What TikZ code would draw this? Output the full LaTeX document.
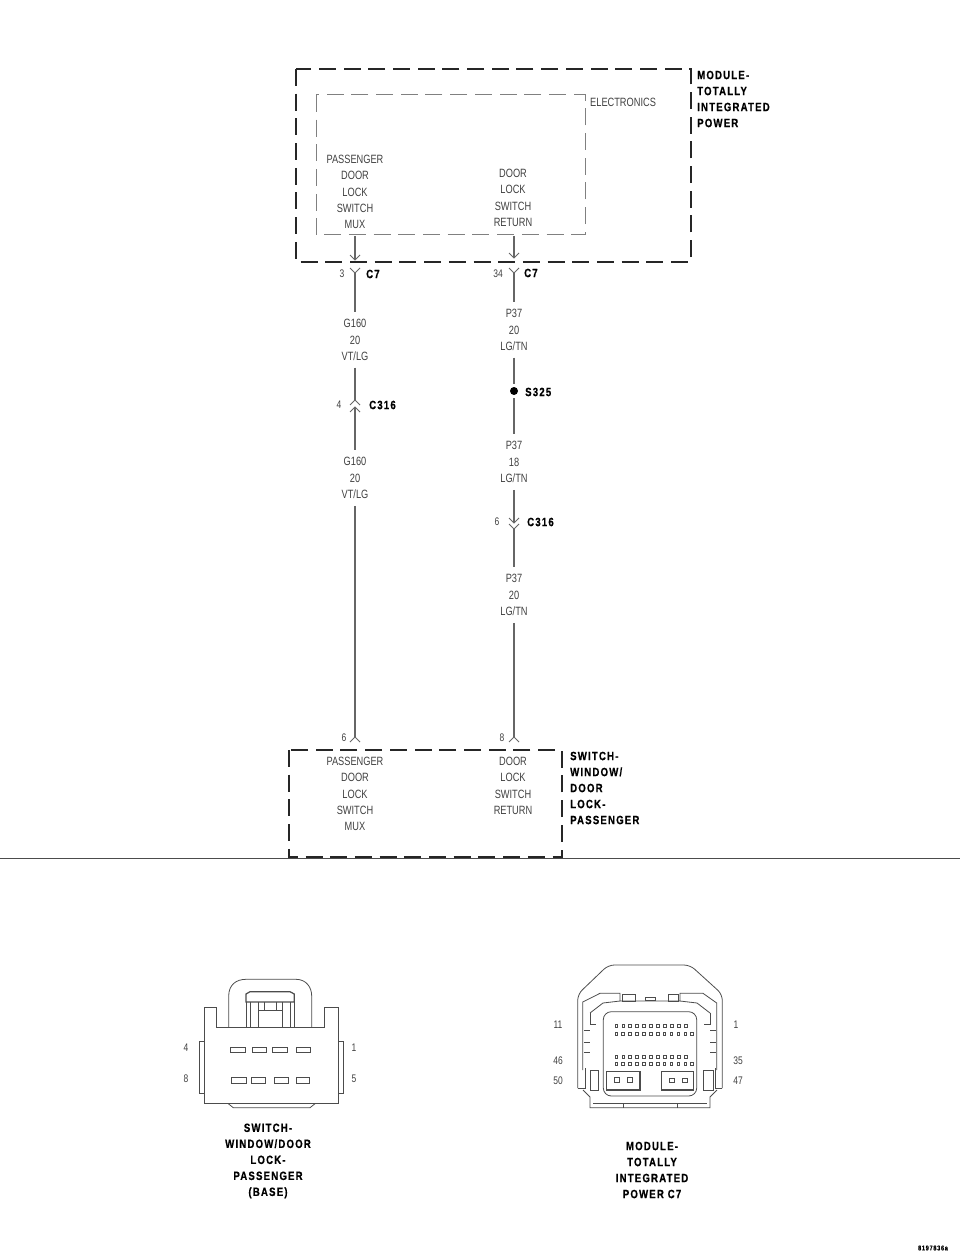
\documentclass[tikz,border=0pt]{standalone}
\usepackage{fontspec}
\setmainfont{Liberation Sans}
\newfontfamily\thinfont[FakeStretch=0.77]{Liberation Sans}
\newfontfamily\tagfont[FakeStretch=0.8,LetterSpace=10,FakeBold=0.6]{Liberation Sans Bold}
\usetikzlibrary{positioning}
\colorlet{wire edge}{black!60}
\colorlet{thin text}{black!75}
\def\chevup(#1){\draw[conn] ([shift={(-5,5)}]#1) -- (#1) -- ([shift={(5,5)}]#1);}
\def\chevdown(#1){\draw[conn] ([shift={(-5,-5)}]#1) -- (#1) -- ([shift={(5,-5)}]#1);}
\tikzset{wire/.style={draw=wire edge, line width=1.1pt},
    conn/.style={draw=wire edge, line width=0.9pt},
    modbox/.style={draw=black!85, line width=1.5pt, dash pattern=on 17pt off 7.7pt},
    subbox/.style={draw=black!50, line width=1pt, dash pattern=on 17pt off 7.7pt},
    outline/.style={draw=black!70, line width=0.8pt},
    stack/.style={font=\thinfont\fontsize{12}{16.3}\selectfont, text=thin text, align=center, inner sep=7pt},
    pin/.style={font=\thinfont\fontsize{11}{13}\selectfont, text=thin text, inner sep=0pt},
    tag/.style={font=\tagfont\fontsize{12}{16}\selectfont, align=left, anchor=west, inner sep=0pt},
    caption/.style={font=\tagfont\fontsize{12}{16}\selectfont, align=center, inner sep=0pt}}

\begin{document}
\begin{tikzpicture}[x=1pt,y=-1pt]
    \useasboundingbox (0,0) rectangle (960,1257);

    % boxes
    \draw[modbox] (296,69) rectangle (691,262);
    \draw[subbox] (316,95) rectangle (585,235);
    \draw[modbox] (289,750) rectangle (562,857);
    \draw[outline] (0,858) -- (960,858);
    \node[tag] (tipm) at (697,99) {MODULE-\\TOTALLY\\INTEGRATED\\POWER};
    \node[stack, inner sep=0pt, anchor=west] (elec) at (590,102) {ELECTRONICS};
    \node[tag] (swim) at (570,788) {SWITCH-\\WINDOW/\\DOOR\\LOCK-\\PASSENGER};

    % pin names
    \node[stack, inner sep=0pt] (muxtop) at (355,192) {PASSENGER\\DOOR\\LOCK\\SWITCH\\MUX};
    \node[stack, inner sep=0pt] (rettop) at (513,198) {DOOR\\LOCK\\SWITCH\\RETURN};
    \node[stack, inner sep=0pt] (muxbot) at (355,794) {PASSENGER\\DOOR\\LOCK\\SWITCH\\MUX};
    \node[stack, inner sep=0pt] (retbot) at (513,786) {DOOR\\LOCK\\SWITCH\\RETURN};

    % wire labels
    \node[stack] (gtop) at (355,340) {G160\\20\\VT/LG};
    \node[stack] (gbot) at (355,478) {G160\\20\\VT/LG};
    \node[stack] (pone) at (514,330) {P37\\20\\LG/TN};
    \node[stack] (ptwo) at (514,462) {P37\\18\\LG/TN};
    \node[stack] (pthree) at (514,595) {P37\\20\\LG/TN};

    % connectors on the wires
    \coordinate (muxin) at (355,236);
    \coordinate (retin) at (514,236);
    \coordinate (muxtip) at (355,260);
    \coordinate (rettip) at (514,258);
    \coordinate (muxy) at (355,273);
    \coordinate (rety) at (514,273);
    \coordinate (cleftA) at (355,400);
    \coordinate (cleftB) at (355,407);
    \coordinate (crightA) at (514,523);
    \coordinate (crightB) at (514,529);
    \coordinate (muxend) at (355,737);
    \coordinate (retend) at (514,737);
    \node[circle, fill=black, minimum size=8pt, inner sep=0pt, outer sep=3pt] (splice) at (514,391) {};

    \draw[wire] (muxin) -- (muxtip);
    \draw[wire] (retin) -- (rettip);
    \draw[wire] (muxy) -- (gtop);
    \draw[wire] (gtop) -- (cleftA);
    \draw[wire] (cleftB) -- (gbot);
    \draw[wire] (gbot) -- (muxend);
    \draw[wire] (rety) -- (pone);
    \draw[wire] (pone) -- (splice);
    \draw[wire] (splice) -- (ptwo);
    \draw[wire] (ptwo) -- (crightA);
    \draw[wire] (crightB) -- (pthree);
    \draw[wire] (pthree) -- (retend);

    \chevdown(muxtip) \chevdown(rettip)
    \chevdown(muxy) \chevdown(rety)
    \chevup(cleftA) \chevup(cleftB)
    \chevdown(crightA) \chevdown(crightB)
    \chevup(muxend) \chevup(retend)

    \node[pin] (p3) at (342,274) {3};
    \node[pin] (p34) at (498,274) {34};
    \node[pin] (p4) at (339,405) {4};
    \node[pin] (p6) at (497,522) {6};
    \node[pin] (p6b) at (344,738) {6};
    \node[pin] (p8) at (502,738) {8};
    \node[tag] (c7a) at (366,274) {C7};
    \node[tag] (c7b) at (524,273) {C7};
    \node[tag] (c316a) at (369,405) {C316};
    \node[tag] (c316b) at (527,522) {C316};
    \node[tag] (s325) at (525,392) {S325};

    % switch connector
    \draw[outline] (204.7,1007.7) -- (216.3,1007.7) -- (216.3,1027.3) -- (324,1027.3) -- (324,1007.7)
        -- (338,1007.7) -- (338,1103.7) -- (204.7,1103.7) -- cycle;
    \draw[outline] (228.3,1103.7) -- (233.3,1107.7) -- (310,1107.7) -- (315,1103.7);
    \draw[outline] (204.7,1041) -- (199.3,1041) -- (199.3,1093) -- (204.7,1093);
    \draw[outline] (338,1041) -- (343.3,1041) -- (343.3,1093) -- (338,1093);
    \draw[outline] (228.7,1027.3) -- (228.7,996) .. controls (228.7,985) and (236,979.3) .. (246,979.3)
        -- (296,979.3) .. controls (306,979.3) and (311.7,987) .. (311.7,996) -- (311.7,1027.3);
    \draw[outline, line width=1.2pt] (246,1002) -- (246,994) -- (250,991.7) -- (290,991.7) -- (294.3,994) -- (294.3,1002) -- cycle;
    \draw[outline] (246,1002) -- (246,1027.3) (250,1002) -- (250,1027.3);
    \draw[outline] (290,1002) -- (290,1027.3) (294.3,1002) -- (294.3,1027.3);
    \draw[outline] (258.3,1002) -- (258.3,1027.3) (282,1002) -- (282,1027.3);
    \draw[outline] (258.3,1010) -- (282,1010) (264,1002) -- (264,1010) (276,1002) -- (276,1010);
    \foreach \x/\w in {230/15,252.3/14.4,272/15.3,296/14}
        \draw[outline] (\x,1047) rectangle ++(\w,5.3);
    \foreach \x/\w in {231.7/14.3,251/14.7,274/14.3,296/13.3}
        \draw[outline] (\x,1077.7) rectangle ++(\w,5.6);
    \node[pin] (sw4) at (186,1048) {4};
    \node[pin] (sw8) at (186,1079) {8};
    \node[pin] (sw1) at (354,1048) {1};
    \node[pin] (sw5) at (354,1079) {5};
    \node[caption] (swcap) at (268,1161) {SWITCH-\\WINDOW/DOOR\\LOCK-\\PASSENGER\\(BASE)};

    % module connector
    \draw[outline, rounded corners=6pt] (577.7,1088) -- (577.7,994.3) -- (608.3,965) -- (690,965) -- (722.3,994.3) -- (722.3,1088);
    \draw[outline] (577.7,1088) -- (585,1088) -- (585,1068) (722.3,1088) -- (715,1088) -- (715,1068);
    \draw[outline] (582.7,1070) -- (582.7,1002) -- (600,993.3) -- (620,993.3) -- (620,1001)
        -- (680,1001) -- (680,993.3) -- (703,993.3) -- (716.7,1003) -- (716.7,1070);
    \draw[outline] (590,1013) -- (603,1003) -- (620,1001) (680,1001) -- (697,1003) -- (710,1013);
    \draw[outline] (590,1013) -- (590,1024) -- (596,1024) (710,1013) -- (710,1024) -- (704,1024);
    \draw[outline, rounded corners=8pt] (603.3,1096) rectangle (696.7,1011.7);
    \draw[outline] (583,1090) -- (590,1097) -- (590,1107.7) -- (710,1107.7) -- (710,1097) -- (717,1090);
    \draw[outline] (593,1103.3) -- (707,1103.3) (623.3,1103.3) -- (623.3,1107.7) (677.3,1103.3) -- (677.3,1107.7);
    \draw[outline] (590,1070) rectangle (598.3,1090) (703.3,1070) rectangle (713,1090);
    \draw[outline] (584,1030) -- (590,1030) (584,1042) -- (590,1042) (584,1052) -- (590,1052);
    \draw[outline] (710,1030) -- (716,1030) (710,1042) -- (716,1042) (710,1052) -- (716,1052);
    \draw[outline] (622,994) rectangle (635,1001) (645,997) rectangle (655,1000) (668,994) rectangle (678,1001);
    \foreach \r/\n/\s in {1026.3/11/6.95,1033.7/12/6.9,1057/11/6.95,1064.3/12/6.9}
        \foreach \i in {1,...,\n}
            \draw[outline, line width=0.9pt] ({615+(\i-1)*\s},\r-1.5) rectangle ++(2.6,3);
    \draw[outline, line width=1.1pt] (606.7,1071.7) rectangle (640,1090);
    \draw[outline, line width=1.1pt] (661.7,1071.7) rectangle (693.3,1090);
    \foreach \x in {614,627}
        \draw[outline] (\x,1077.5) rectangle ++(5.3,5);
    \foreach \x in {669.5,682}
        \draw[outline] (\x,1078.5) rectangle ++(5,3.5);
    \node[pin] (md11) at (558,1025) {11};
    \node[pin] (md1) at (736,1025) {1};
    \node[pin] (md46) at (558,1061) {46};
    \node[pin] (md35) at (738,1061) {35};
    \node[pin] (md50) at (558,1081) {50};
    \node[pin] (md47) at (738,1081) {47};
    \node[caption] (mdcap) at (652,1170) {MODULE-\\TOTALLY\\INTEGRATED\\POWER C7};

    \node[font=\tagfont\fontsize{7}{8}\selectfont, inner sep=0pt] (figno) at (933,1248) {8197836a};
\end{tikzpicture}
\end{document}
